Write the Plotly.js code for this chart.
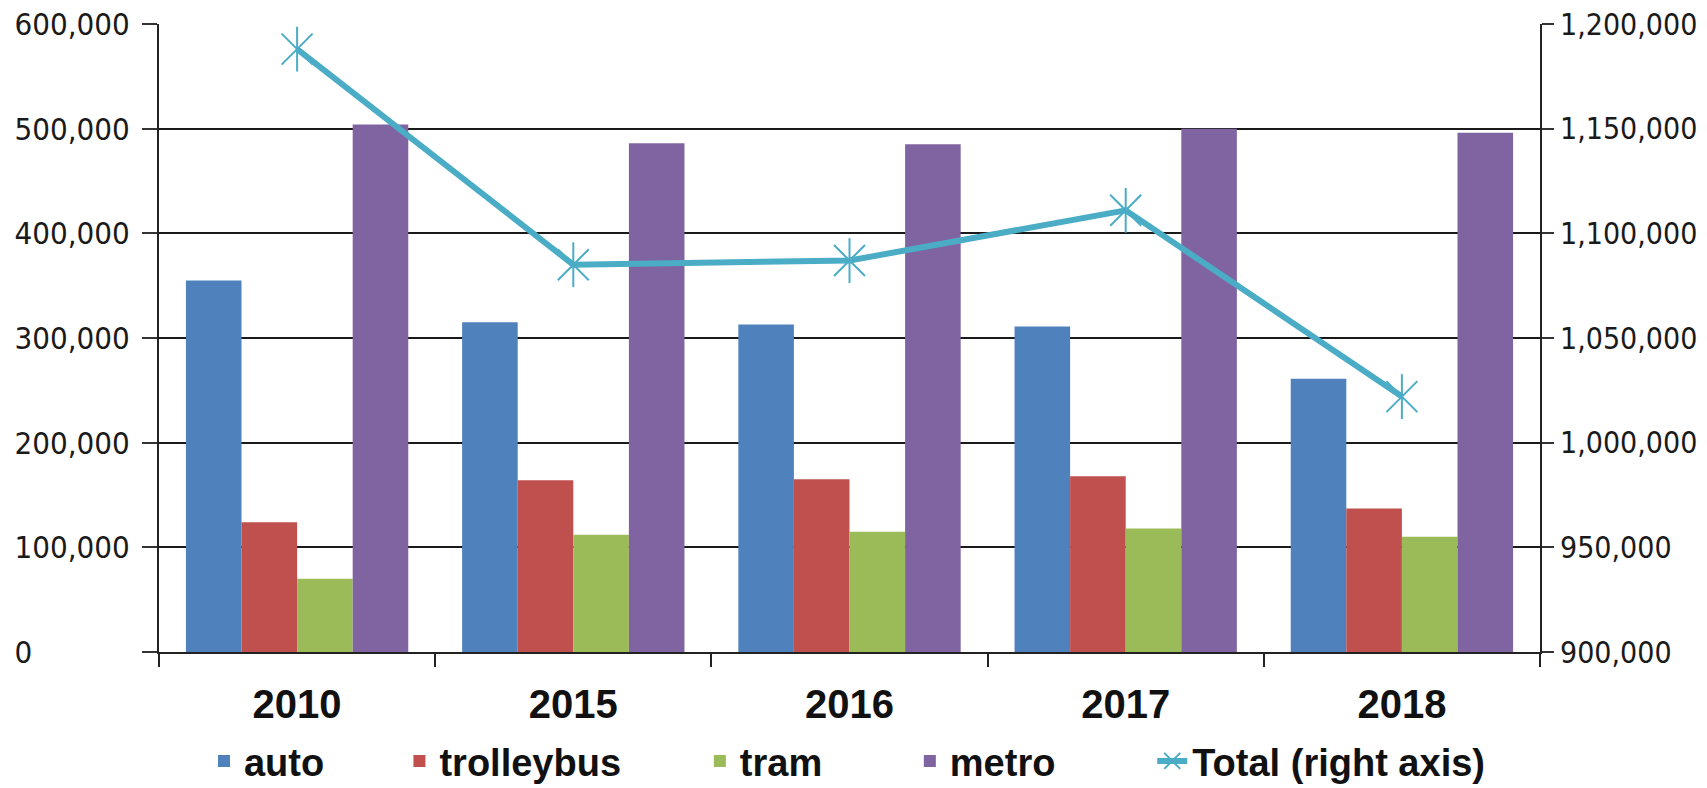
<!DOCTYPE html>
<html>
<head>
<meta charset="utf-8">
<script src="https://cdn.plot.ly/plotly-3.0.1.min.js"></script>
<style>html,body{margin:0;padding:0;background:#fff;}#chart{width:1707px;height:788px;}</style>
</head>
<body>
<div id="chart"></div>
<script>
var years = ["2010", "2015", "2016", "2017", "2018"];
var auto = [355000, 315000, 313000, 311000, 261000];
var trolleybus = [124000, 164000, 165000, 168000, 137000];
var tram = [70000, 112000, 115000, 118000, 110000];
var metro = [504000, 486000, 485000, 500000, 496000];
var total = [1188000, 1085000, 1087000, 1111000, 1022000];
var leftTicks = [0, 100000, 200000, 300000, 400000, 500000, 600000];
var rightTicks = [900000, 950000, 1000000, 1050000, 1100000, 1150000, 1200000];

var fmt = function(v){ return v.toLocaleString('en-US'); };
// left-axis labels are left-aligned in the original: pad the short "0" label
var leftFmt = function(v){ return v === 0 ? '0' + '\u2007\u2007\u2007\u2007\u2007\u2008' : fmt(v); };
var numFont = 'DejaVu Sans Condensed, DejaVu Sans, sans-serif';
var legFont = {family:'Liberation Sans, Arial, sans-serif', size:38, color:'#111', weight:'bold'};
function leg(x){
  return {orientation:'h', xref:'container', x:x, xanchor:'left', yref:'container', y:0.034, yanchor:'middle',
          font:legFont, bgcolor:'rgba(0,0,0,0)', itemwidth:30};
}

var traces = [
  {type:'bar', name:'auto', x:years, y:auto, marker:{color:'#4F81BD'}, legend:'legend'},
  {type:'bar', name:'trolleybus', x:years, y:trolleybus, marker:{color:'#C0504D'}, legend:'legend2'},
  {type:'bar', name:'tram', x:years, y:tram, marker:{color:'#9BBB59'}, legend:'legend3'},
  {type:'bar', name:'metro', x:years, y:metro, marker:{color:'#8064A2'}, legend:'legend4'},
  {type:'scatter', mode:'lines+markers', name:'Total (right axis)', x:years, y:total, yaxis:'y2', legend:'legend5',
   line:{color:'#4BACC6', width:6},
   marker:{symbol:'x-thin-open', size:31, color:'#4BACC6', line:{color:'#4BACC6', width:2}}},
  {type:'scatter', mode:'markers', name:'Total', showlegend:false, x:years, y:total, yaxis:'y2',
   marker:{symbol:'line-ns-open', size:32, color:'#4BACC6', line:{color:'#4BACC6', width:2}}}
];

var layout = {
  width:1707, height:788,
  margin:{l:159, r:167, t:24, b:136, autoexpand:false},
  paper_bgcolor:'#fff', plot_bgcolor:'#fff',
  barmode:'group', bargap:0.195, bargroupgap:0,
  font:{family:numFont, color:'#1a1a1a', size:30},
  showlegend:true,
  legend:leg(0.1195),
  legend2:leg(0.234),
  legend3:leg(0.410),
  legend4:leg(0.533),
  legend5:leg(0.675),
  xaxis:{type:'category', tickson:'boundaries', ticks:'outside', ticklen:13, tickwidth:2, tickcolor:'#222',
         showline:true, linecolor:'#222', linewidth:2, showgrid:false, ticklabelstandoff:16,
         tickfont:{family:'Liberation Sans, Arial, sans-serif', size:40, color:'#111', weight:'bold'}},
  yaxis:{range:[0,600000], tickvals:leftTicks, ticktext:leftTicks.map(leftFmt),
         ticks:'outside', ticklen:15, tickwidth:2, tickcolor:'#333',
         showline:true, linecolor:'#222', linewidth:2, mirror:false, ticklabelstandoff:6,
         showgrid:true, gridcolor:'#1a1a1a', gridwidth:2, zeroline:false,
         tickfont:{family:numFont, size:31, color:'#1a1a1a'}},
  yaxis2:{overlaying:'y', side:'right', range:[900000,1200000], tickvals:rightTicks, ticktext:rightTicks.map(fmt),
          ticks:'outside', ticklen:12, tickwidth:2, tickcolor:'#333',
          showline:true, linecolor:'#222', linewidth:2, showgrid:false, zeroline:false,
          tickfont:{family:numFont, size:30, color:'#1a1a1a'}}
};

Plotly.newPlot('chart', traces, layout, {displayModeBar:false, staticPlot:true});
</script>
</body>
</html>
